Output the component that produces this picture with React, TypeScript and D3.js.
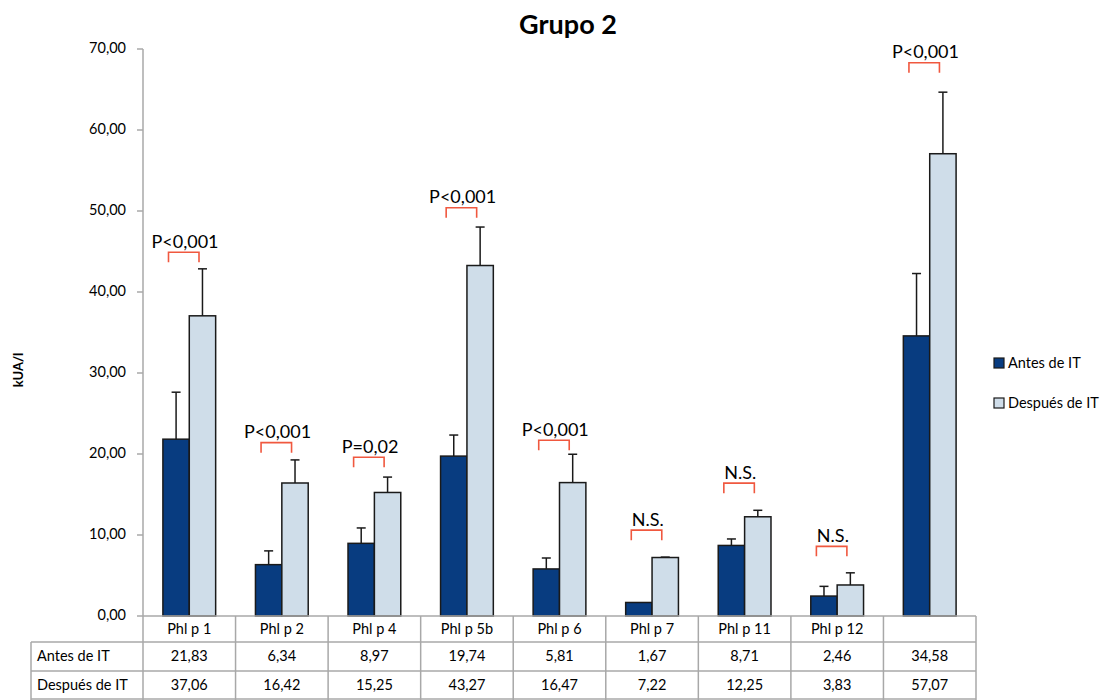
import React from "react";
import * as d3 from "d3";

// Allergen components (last column has no name in the table)
const categories = ["Phl p 1", "Phl p 2", "Phl p 4", "Phl p 5b", "Phl p 6", "Phl p 7", "Phl p 11", "Phl p 12", ""];
const seriesNames = ["Antes de IT", "Después de IT"];
const antes = [21.83, 6.34, 8.97, 19.74, 5.81, 1.67, 8.71, 2.46, 34.58];
const despues = [37.06, 16.42, 15.25, 43.27, 16.47, 7.22, 12.25, 3.83, 57.07];
const antesErr = [5.8, 1.7, 1.9, 2.6, 1.35, 0, 0.8, 1.2, 7.7];
const despuesErr = [5.8, 2.85, 1.9, 4.75, 3.5, 0.05, 0.8, 1.5, 7.6];
const pLabels = ["P<0,001", "P<0,001", "P=0,02", "P<0,001", "P<0,001", "N.S.", "N.S.", "N.S.", "P<0,001"];
const bracketLevels = [44.9, 21.4, 19.6, 50.4, 21.7, 10.6, 16.4, 8.6, 68.3];
const yTicks = [0, 10, 20, 30, 40, 50, 60, 70];

const COLORS = ["#083c80", "#cfdde9"];
const FONT = "Lato, 'Open Sans', sans-serif";

const W = 1113;
const H = 700;
const left = 143;
const right = 976;
const top = 49;
const bottom = 616;

const fmt = (v: number) => d3.format(".2f")(v).replace(".", ",");

export default function App() {
  const y = d3.scaleLinear().domain([0, 70]).range([bottom, top]);
  const x0 = d3
    .scaleBand<number>()
    .domain(d3.range(categories.length))
    .range([left, right])
    .padding(0);
  const bw = x0.bandwidth();
  const x1 = d3.scaleBand<string>().domain(seriesNames).range([bw * 0.215, bw * 0.785]).padding(0);
  const barW = x1.bandwidth();

  const values = [antes, despues];
  const errs = [antesErr, despuesErr];

  const rowTop = [616, 642, 671, 700];
  const tableLeft = 31;
  const grid = "#a8a8a8";

  return (
    <div style={{ width: W, height: H, position: "absolute", left: 0, top: 0 }}>
      <style>{`body{margin:0}`}</style>
      <svg width={W} height={H} style={{ display: "block", background: "#fff" }} fontFamily={FONT}>
        {/* Title */}
        <text x={568} y={34} textAnchor="middle" fontSize={27} fontWeight="bold" fill="#000">
          Grupo 2
        </text>

        {/* Y axis */}
        <line x1={left} x2={left} y1={top} y2={bottom} stroke={grid} strokeWidth={1.5} />
        {yTicks.map((t) => (
          <g key={t}>
            <line x1={left - 6} x2={left} y1={y(t)} y2={y(t)} stroke={grid} strokeWidth={1.5} />
            <text x={126} y={y(t)} textAnchor="end" dominantBaseline="middle" fontSize={14.5} fill="#000">
              {fmt(t)}
            </text>
          </g>
        ))}
        <text
          transform={`translate(20,370) rotate(-90)`}
          textAnchor="middle"
          dominantBaseline="middle"
          fontSize={13}
          fontWeight="bold"
          fill="#000"
        >
          kUA/l
        </text>

        {/* Bars with error bars */}
        {categories.map((c, i) => (
          <g key={i} transform={`translate(${x0(i)},0)`}>
            {seriesNames.map((s, k) => {
              const v = values[k][i];
              const e = errs[k][i];
              const bx = x1(s)!;
              const cx = bx + barW / 2;
              return (
                <g key={s}>
                  <rect
                    x={bx}
                    y={y(v)}
                    width={barW}
                    height={y(0) - y(v)}
                    fill={COLORS[k]}
                    stroke="#1a1a1a"
                    strokeWidth={1.5}
                  />
                  {e > 0 && (
                    <g stroke="#1a1a1a" strokeWidth={1.5}>
                      <line x1={cx} x2={cx} y1={y(v)} y2={y(v + e)} />
                      <line x1={cx - 4.5} x2={cx + 4.5} y1={y(v + e)} y2={y(v + e)} />
                    </g>
                  )}
                </g>
              );
            })}
            {/* Significance bracket */}
            <path
              d={`M${25.5},${y(bracketLevels[i]) + 10}V${y(bracketLevels[i])}H${56}V${y(bracketLevels[i]) + 10}`}
              fill="none"
              stroke="#f0583f"
              strokeWidth={1.6}
            />
            <text
              x={42}
              y={y(bracketLevels[i]) - 9}
              textAnchor="middle"
              dominantBaseline="middle"
              fontSize={18}
              fill="#000"
            >
              {pLabels[i]}
            </text>
          </g>
        ))}

        {/* X axis baseline */}
        <line x1={left} x2={right} y1={bottom} y2={bottom} stroke={grid} strokeWidth={1.5} />

        {/* Data table */}
        <g stroke={grid} strokeWidth={1.5}>
          <line x1={tableLeft} x2={right} y1={rowTop[1]} y2={rowTop[1]} />
          <line x1={tableLeft} x2={right} y1={rowTop[2]} y2={rowTop[2]} />
          <line x1={tableLeft} x2={right} y1={rowTop[3] - 1} y2={rowTop[3] - 1} />
          <line x1={tableLeft} x2={tableLeft} y1={rowTop[1]} y2={rowTop[3]} />
          {d3.range(categories.length + 1).map((i) => {
            const xx = i < categories.length ? x0(i)! : right;
            return <line key={i} x1={xx} x2={xx} y1={bottom} y2={rowTop[3]} />;
          })}
        </g>
        {categories.map((c, i) => (
          <g key={`t${i}`} fontSize={14.5} fill="#000" textAnchor="middle" dominantBaseline="middle">
            <text x={x0(i)! + bw / 2} y={(rowTop[0] + rowTop[1]) / 2 + 1}>{c}</text>
            <text x={x0(i)! + bw / 2} y={(rowTop[1] + rowTop[2]) / 2 + 1}>{fmt(antes[i])}</text>
            <text x={x0(i)! + bw / 2} y={(rowTop[2] + rowTop[3]) / 2 + 1}>{fmt(despues[i])}</text>
          </g>
        ))}
        {seriesNames.map((s, k) => (
          <text key={s} x={37} y={(rowTop[k + 1] + rowTop[k + 2]) / 2 + 1} fontSize={14.5} dominantBaseline="middle" fill="#000">
            {s}
          </text>
        ))}

        {/* Legend */}
        {seriesNames.map((s, k) => (
          <g key={s} transform={`translate(994,${358 + k * 40})`}>
            <rect x={0} y={0} width={10} height={10} fill={COLORS[k]} stroke="#1a1a1a" strokeWidth={1.2} />
            <text x={14} y={6} fontSize={14.5} dominantBaseline="middle" fill="#000">
              {s}
            </text>
          </g>
        ))}
      </svg>
    </div>
  );
}
